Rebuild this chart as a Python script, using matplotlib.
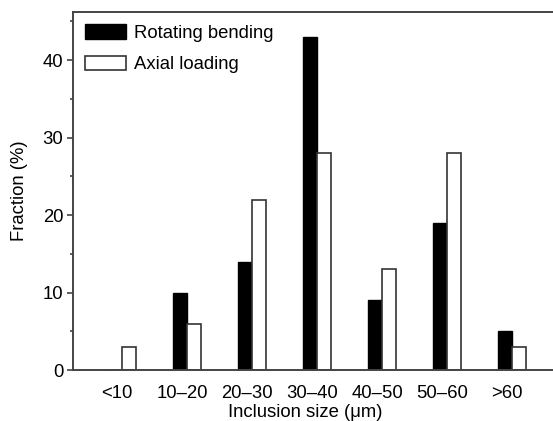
import matplotlib
matplotlib.use("Agg")
import matplotlib.pyplot as plt
import matplotlib.transforms as mtransforms
import numpy as np

plt.rcParams['font.family'] = ['Liberation Sans', 'DejaVu Sans']

categorias = ["<10", "10\u201320", "20\u201330", "30\u201340", "40\u201350", "50\u201360", ">60"]
rotating_bending = [0, 10, 14, 43, 9, 19, 5]
axial_loading = [3, 6, 22, 28, 13, 28, 3]

fig = plt.figure(figsize=(5.53, 4.21), dpi=100)
ax = fig.add_axes([0.132, 0.121, 0.868, 0.8505])

x = np.arange(len(categorias))
ancho = 0.21
ax.bar(x - ancho / 2, rotating_bending, ancho, color="black", edgecolor="black",
       linewidth=1.0, label="Rotating bending")
ax.bar(x + ancho / 2, axial_loading, ancho, color="white", edgecolor="#333333",
       linewidth=1.2, label="Axial loading")

ax.set_xlim(-0.754, 6.63)
ax.set_ylim(0, 46.2)
ax.set_yticks([0, 10, 20, 30, 40])
ax.set_yticks([5, 15, 25, 35, 45], minor=True)
ax.set_xticks(x)
ax.set_xticklabels(categorias, fontsize=13.3)
ax.tick_params(axis="x", length=0, pad=11)
ax.tick_params(axis="y", which="major", direction="out", length=4, width=1.2,
               labelsize=13.3, color="#444444", pad=3)
ax.tick_params(axis="y", which="minor", direction="out", length=2.5, width=1.2,
               color="#444444")

# las etiquetas del eje x van un poco a la izquierda
desplazo = mtransforms.ScaledTranslation(-5 / 100, 0, fig.dpi_scale_trans)
for lab in ax.get_xticklabels():
    lab.set_transform(lab.get_transform() + desplazo)

for lado in ["left", "bottom", "top"]:
    ax.spines[lado].set_color("#444444")
    ax.spines[lado].set_linewidth(1.4)
ax.spines["right"].set_visible(False)

ax.set_ylabel("Fraction (%)", fontsize=13.3)
ax.yaxis.set_label_coords(-0.093, 0.5)
ax.set_xlabel("Inclusion size (\u03bcm)", fontsize=13.3)
ax.xaxis.set_label_coords(0.483, -0.094)

ax.legend(loc="upper left", frameon=False, fontsize=13.3, handlelength=2.2,
          handleheight=0.85, handletextpad=0.45, labelspacing=0.75,
          borderaxespad=0.25, bbox_to_anchor=(0.0, 1.0))

fig.savefig("out.png", dpi=100)
